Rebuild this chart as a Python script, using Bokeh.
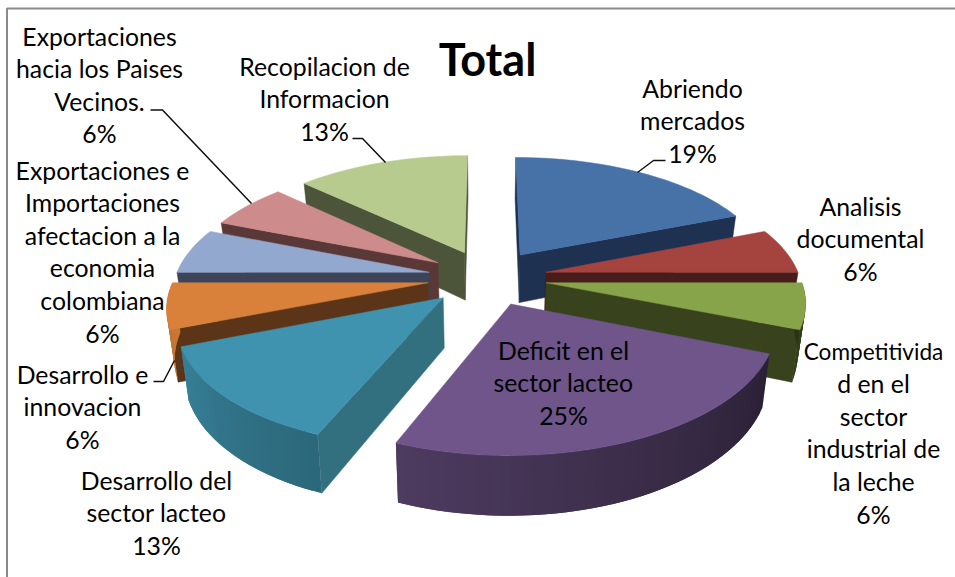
import math
from bokeh.plotting import figure
from bokeh.embed import file_html
from bokeh.resources import INLINE
from bokeh.core.properties import value

# ---- data ----
title = "Total"
categories = ["Abriendo mercados", "Analisis documental",
              "Competitividad en el sector industrial de la leche",
              "Deficit en el sector lacteo", "Desarrollo del sector lacteo",
              "Desarrollo e innovacion",
              "Exportaciones e Importaciones afectacion a la economia colombiana",
              "Exportaciones hacia los Paises Vecinos.", "Recopilacion de Informacion"]
values = [19, 6, 6, 25, 13, 6, 6, 6, 13]
label_lines = [["Abriendo", "mercados"], ["Analisis", "documental"],
               ["Competitivida", "d en el", "sector", "industrial de", "la leche"],
               ["Deficit en el", "sector lacteo"], ["Desarrollo del", "sector lacteo"],
               ["Desarrollo e", "innovacion"],
               ["Exportaciones e", "Importaciones", "afectacion a la", "economia", "colombiana"],
               ["Exportaciones", "hacia los Paises", "Vecinos."], ["Recopilacion de", "Informacion"]]

# ---- styles / layout ----
top_colors = ["#4672A8", "#A5433F", "#87A44A", "#6F558A", "#3F93AE",
              "#D9803A", "#92A8CF", "#CD8C8B", "#B8CB8F"]
side_colors = ["#1E3150", "#471C1A", "#38431D", "#2F2440", "#33707F",
               "#5C3518", "#3C4459", "#5A3837", "#4C553A"]
label_anchor = [(692, 87.5), (860, 205.5), (873, 350.5), (563, 349.5), (156, 479.5),
                (82, 373.5), (102, 169.5), (99, 35.5), (324, 65.5)]
LINE_STEP = 32.6
FONT = "Lato"
FONT_SIZE = "24.8px"
NARROW_SIZE = "22.6px"
CX, CY = 487, 277
RX, AY = 254, 119
K = 0.154
EXPLODE = 0.235
SHEAR = 6
DEPTH = 49
BOTTOM_X = 0.975
WIDTH, HEIGHT = 955, 577


def project(X, Y, drop=False):
    s = 1 / (1 - K * Y)
    x = RX * X * s
    y = AY * Y * s
    sx = -SHEAR * max(Y, 0)
    if drop:
        return CX + x * BOTTOM_X + sx, CY + y + DEPTH * s
    return CX + x + sx, CY + y


def shade(hex_color, f):
    r, g, b = (int(hex_color[i:i + 2], 16) for i in (1, 3, 5))
    return "#%02x%02x%02x" % (int(r * f), int(g * f), int(b * f))


p = figure(width=WIDTH, height=HEIGHT, x_range=(0, WIDTH), y_range=(HEIGHT, 0),
           output_backend="svg", toolbar_location=None, min_border=0,
           outline_line_color=None, background_fill_color="white")
p.xaxis.visible = False
p.yaxis.visible = False
p.grid.visible = False

# frame of the chart area
p.line([955, 6.5, 6.5], [8, 8, 577], line_color="#8a8a8a", line_width=2)

# slices from the values
total = sum(values)
slices = []
start = 0.0
for i, v in enumerate(values):
    sweep = 360.0 * v / total
    mid = math.radians(start + sweep / 2)
    ox, oy = EXPLODE * math.sin(mid), -EXPLODE * math.cos(mid)
    slices.append(dict(i=i, a0=start, a1=start + sweep, ox=ox, oy=oy))
    start += sweep

for sl in sorted(slices, key=lambda s: s["oy"]):
    i, ox, oy = sl["i"], sl["ox"], sl["oy"]
    n = max(6, int((sl["a1"] - sl["a0"]) / 2))
    angles = [sl["a0"] + (sl["a1"] - sl["a0"]) * j / n for j in range(n + 1)]
    arc = [(ox + math.sin(math.radians(t)), oy - math.cos(math.radians(t))) for t in angles]
    apex = (ox, oy)
    apex_s = project(*apex)
    mid_s = project(*arc[n // 2])

    # radial walls: only the ones hanging below the top face
    for edge in (arc[0], arc[-1]):
        e_s = project(*edge)
        dx = e_s[0] - apex_s[0]
        if abs(dx) < 1e-6:
            continue
        line_y = apex_s[1] + (e_s[1] - apex_s[1]) * (mid_s[0] - apex_s[0]) / dx
        if line_y > mid_s[1]:
            a_d, e_d = project(*apex, drop=True), project(*edge, drop=True)
            p.patch([apex_s[0], e_s[0], e_d[0], a_d[0]], [apex_s[1], e_s[1], e_d[1], a_d[1]],
                    fill_color=side_colors[i], line_color=side_colors[i], line_width=0.5)

    # outer wall, shaded by direction; each strip overlaps the next so no seams show
    for j in range(n):
        t = (angles[j] + angles[j + 1]) / 2
        if math.cos(math.radians(t)) > 0:
            continue
        f = min(0.95, max(0.3, 0.38 + (t - 111) / (248 - 111) * 0.49))
        c = shade(top_colors[i], f)
        a, b = arc[j], arc[min(j + 2, n)]
        pa, pb, qa, qb = project(*a), project(*b), project(*a, drop=True), project(*b, drop=True)
        p.patch([pa[0], pb[0], qb[0], qa[0]], [pa[1], pb[1], qb[1], qa[1]],
                fill_color=c, line_color=None)

    # top face
    pts = [apex_s] + [project(*q) for q in arc]
    p.patch([q[0] for q in pts], [q[1] for q in pts],
            fill_color=top_colors[i], line_color=top_colors[i], line_width=0.5)

# leader lines
leaders = [[(150, 109.5), (162, 109.5), (251, 203)],
           [(352, 138), (362, 138), (385, 162)],
           [(665, 160), (653, 160), (637, 172)],
           [(153, 381), (163, 381), (174, 360)]]
for pts in leaders:
    p.line([q[0] for q in pts], [q[1] for q in pts], line_color="#101010", line_width=1.5)

# labels
xs, ys, txt, sizes = [], [], [], []
for lines, v, (ax, ay) in zip(label_lines, values, label_anchor):
    for k, s in enumerate(lines + [f"{v}%"]):
        xs.append(ax)
        ys.append(ay + k * LINE_STEP)
        txt.append(s)
        sizes.append(NARROW_SIZE if s == "Competitivida" else FONT_SIZE)
p.text(xs, ys, text=txt, text_align="center", text_baseline="middle",
       text_font=value(FONT), text_font_size=sizes, text_color="#000000")
p.text([487], [58.5], text=[title], text_align="center", text_baseline="middle",
       text_font=value(FONT), text_font_size="45px", text_font_style="bold", text_color="#000000")

open("out.html", "w").write(file_html(p, INLINE))
